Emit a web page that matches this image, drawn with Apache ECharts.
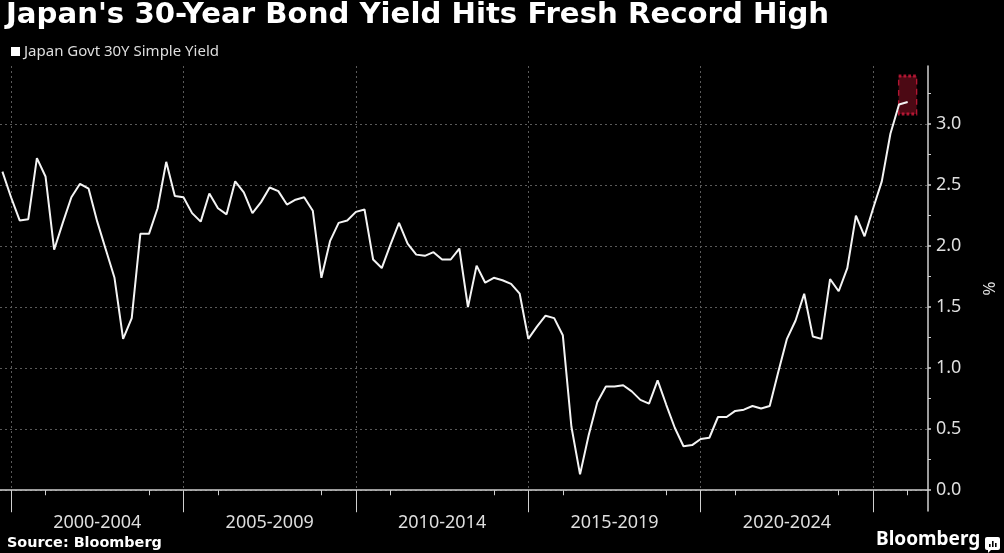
<!DOCTYPE html>
<html>
<head>
<meta charset="utf-8">
<script src="https://cdn.jsdelivr.net/npm/echarts@6/dist/echarts.min.js"></script>
<style>
html,body{margin:0;padding:0;background:#000;}
#chart{width:1004px;height:553px;}
</style>
</head>
<body>
<div id="chart"></div>
<script>
const chartTitle = "Japan's 30-Year Bond Yield Hits Fresh Record High";
const seriesName = 'Japan Govt 30Y Simple Yield';
const sourceText = 'Source: Bloomberg';
const brandText = 'Bloomberg';
const yAxisName = '%';

// quarterly observations, first at Q4 1999
const startYear = 1999.75;
const stepYears = 0.25;
const yields = [
  2.61, 2.40, 2.21, 2.22, 2.72, 2.57, 1.97, 2.19, 2.40, 2.51,
  2.47, 2.20, 1.97, 1.74, 1.24, 1.41, 2.10, 2.10, 2.31, 2.69,
  2.41, 2.40, 2.27, 2.20, 2.43, 2.31, 2.26, 2.53, 2.44, 2.27,
  2.36, 2.48, 2.45, 2.34, 2.38, 2.40, 2.29, 1.74, 2.04, 2.19,
  2.21, 2.28, 2.30, 1.89, 1.82, 2.01, 2.19, 2.02, 1.93, 1.92,
  1.95, 1.89, 1.89, 1.98, 1.50, 1.84, 1.70, 1.74, 1.72, 1.69,
  1.61, 1.24, 1.34, 1.43, 1.41, 1.27, 0.52, 0.13, 0.45, 0.72,
  0.85, 0.85, 0.86, 0.81, 0.74, 0.71, 0.90, 0.70, 0.51, 0.36,
  0.37, 0.42, 0.43, 0.60, 0.60, 0.65, 0.66, 0.69, 0.67, 0.69,
  0.97, 1.24, 1.39, 1.61, 1.26, 1.24, 1.73, 1.63, 1.82, 2.25,
  2.08, 2.31, 2.53, 2.92, 3.16, 3.18
];

const groupLabels = ['2000-2004', '2005-2009', '2010-2014', '2015-2019', '2020-2024'];
const groupStarts = [2000, 2005, 2010, 2015, 2020];
const separatorYears = [2000, 2005, 2010, 2015, 2020, 2025];
const yearTicks = [2001, 2004, 2006, 2009, 2011, 2014, 2016, 2019, 2021, 2024, 2026];
const yTickValues = [0, 0.5, 1, 1.5, 2, 2.5, 3];
const yMinorValues = [0.25, 0.75, 1.25, 1.75, 2.25, 2.75, 3.25];

const xMin = 1999.68, xMax = 2026.59;
const yMin = -0.17, yMax = 3.475;

const points = yields.map((v, i) => [startYear + i * stepYears, v]);
const lastPoint = points[points.length - 1];
const groupCenters = groupStarts.map(s => s + 2.5);

const axisColor = '#d0d0d0';
const textColor = '#dedede';
const gridColor = '#5a5a5a';

const chart = echarts.init(document.getElementById('chart'), null, {renderer: 'canvas'});
chart.setOption({
  backgroundColor: '#000',
  animation: false,
  title: {
    text: chartTitle,
    left: 6,
    top: 1,
    padding: 0,
    textStyle: {color: '#ffffff', fontFamily: 'DejaVu Sans', fontWeight: 'bold', fontSize: 29.2}
  },
  legend: {
    data: [seriesName],
    left: 11,
    top: 44,
    padding: 0,
    icon: 'rect',
    itemWidth: 9,
    itemHeight: 9,
    itemGap: 10,
    textStyle: {color: textColor, fontFamily: 'Noto Sans', fontSize: 15, padding: [0, 0, 0, -1]}
  },
  grid: {left: 0, right: 73, top: 66, bottom: 42, containLabel: false},
  xAxis: [
    {
      type: 'value', position: 'bottom', min: xMin, max: xMax,
      axisLine: {show: true, lineStyle: {color: axisColor, width: 1.5}},
      axisTick: {show: true, customValues: yearTicks, length: 5, lineStyle: {color: axisColor, width: 1}},
      axisLabel: {
        show: true, customValues: groupCenters, margin: 3,
        color: textColor, fontFamily: 'Noto Sans', fontSize: 18,
        formatter: v => groupLabels[groupCenters.findIndex(c => Math.abs(c - v) < 0.01)] || ''
      },
      splitLine: {show: false}
    },
    {
      type: 'value', position: 'bottom', min: xMin, max: xMax,
      axisLine: {show: false},
      axisTick: {show: true, customValues: separatorYears, length: 22, lineStyle: {color: axisColor, width: 1}},
      axisLabel: {show: false},
      splitLine: {show: true, lineStyle: {color: gridColor, type: [2, 3], width: 1}}
    }
  ],
  yAxis: [
    {
      type: 'value', position: 'right', min: yMin, max: yMax,
      name: yAxisName, nameLocation: 'middle', nameGap: 51, nameRotate: -90,
      nameTextStyle: {color: textColor, fontFamily: 'Noto Sans', fontSize: 17},
      axisLine: {show: true, lineStyle: {color: axisColor, width: 1.5}},
      axisTick: {show: true, customValues: yTickValues, length: 3, lineStyle: {color: axisColor, width: 1.5}},
      axisLabel: {
        show: true, customValues: yTickValues, margin: 8,
        color: textColor, fontFamily: 'Noto Sans', fontSize: 18,
        formatter: v => v.toFixed(1)
      },
      splitLine: {show: true, lineStyle: {color: gridColor, type: [2, 3], width: 1}}
    },
    {
      type: 'value', position: 'right', min: yMin, max: yMax,
      axisLine: {show: false},
      axisTick: {show: true, customValues: yMinorValues, length: 3, lineStyle: {color: axisColor, width: 1}},
      axisLabel: {show: false},
      splitLine: {show: false}
    }
  ],
  series: [
    {
      name: 'latest',
      type: 'scatter',
      xAxisIndex: 0, yAxisIndex: 0,
      data: [lastPoint],
      symbol: 'rect',
      symbolSize: [18, 38],
      symbolOffset: [0, -7],
      itemStyle: {color: 'rgba(105,12,28,0.9)', borderColor: '#d31a3c', borderWidth: 2, borderType: [4, 3]},
      emphasis: {disabled: true},
      silent: true,
      z: 2
    },
    {
      name: seriesName,
      type: 'line',
      xAxisIndex: 0, yAxisIndex: 0,
      data: points,
      showSymbol: false,
      symbol: 'none',
      color: '#ffffff',
      lineStyle: {color: '#f4f4f4', width: 2},
      emphasis: {disabled: true},
      z: 3
    }
  ],
  graphic: [
    {
      type: 'text', left: 7, top: 536,
      style: {text: sourceText, fill: '#ffffff', font: 'bold 14.4px "DejaVu Sans"'}
    },
    {
      type: 'text', left: 876, top: 530,
      style: {text: brandText, fill: '#ffffff', font: 'bold 19px "Noto Sans"'}
    },
    {
      type: 'group', left: 985, top: 537,
      children: [
        {type: 'rect', shape: {x: 0, y: 0, width: 15, height: 13, r: 2}, style: {fill: '#ffffff'}},
        {type: 'polygon', shape: {points: [[3, 12], [7, 12], [3, 16]]}, style: {fill: '#ffffff'}},
        {type: 'rect', shape: {x: 4, y: 7, width: 1.6, height: 3}, style: {fill: '#000'}},
        {type: 'rect', shape: {x: 7, y: 4, width: 1.6, height: 6}, style: {fill: '#000'}},
        {type: 'rect', shape: {x: 10, y: 6, width: 1.6, height: 4}, style: {fill: '#000'}}
      ]
    }
  ]
});
</script>
</body>
</html>
